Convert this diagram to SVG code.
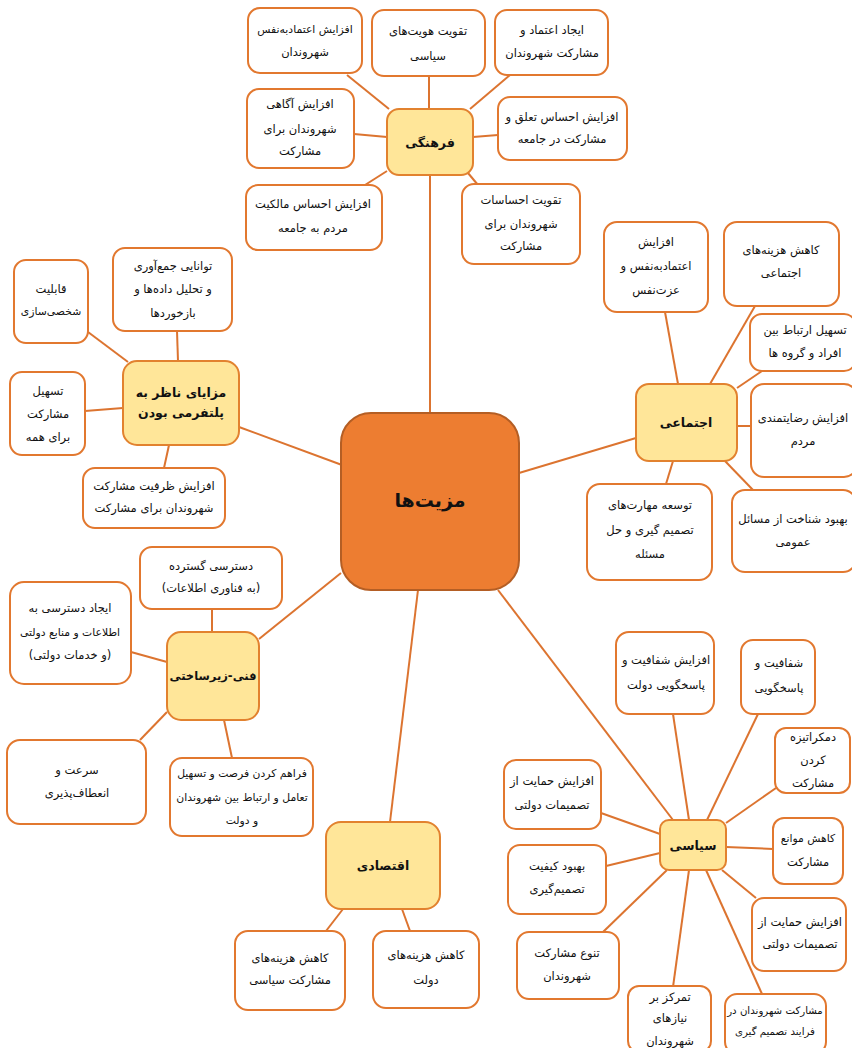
<svg xmlns="http://www.w3.org/2000/svg" width="852" height="1048" viewBox="0 0 852 1048">
  <style>
    text { font-family: "DejaVu Sans", "Noto Sans", sans-serif; fill: #111; text-anchor: middle; direction: rtl; }
    .leaf rect { fill: #ffffff; stroke: #E2782F; stroke-width: 2; }
    .leaf text { font-size: 11.5px; }
    .leaf text.sm { font-size: 10.8px; }
    .cat rect { fill: #FFE699; stroke: #E2822F; stroke-width: 2; }
    .cat text { font-size: 12.5px; font-weight: bold; }
    .cat text.sm { font-size: 11.5px; }
    .hub rect { fill: #ED7D31; stroke: #B45E24; stroke-width: 2; }
    .hub text { font-size: 19px; font-weight: bold; }
    #connectors line { stroke: #DC7430; stroke-width: 2; }
  </style>

  <rect width="852" height="1048" fill="#ffffff"/>

  <!-- connectors -->
  <g id="connectors">
    <!-- hub to categories -->
    <line x1="430" y1="175" x2="430" y2="413"/>
    <line x1="239" y1="427" x2="342" y2="465"/>
    <line x1="636" y1="438" x2="519" y2="473"/>
    <line x1="259" y1="639" x2="341" y2="573"/>
    <line x1="418" y1="590" x2="390" y2="822"/>
    <line x1="498" y1="590" x2="673" y2="820"/>
    <!-- farhangi -->
    <line x1="347" y1="75" x2="389" y2="109"/>
    <line x1="429" y1="76" x2="429" y2="109"/>
    <line x1="510" y1="75" x2="470" y2="109"/>
    <line x1="354" y1="134" x2="387" y2="137"/>
    <line x1="473" y1="137" x2="498" y2="135"/>
    <line x1="387" y1="171" x2="365" y2="185"/>
    <line x1="468" y1="173" x2="478" y2="185"/>
    <!-- platform -->
    <line x1="88" y1="332" x2="128" y2="362"/>
    <line x1="177" y1="331" x2="178" y2="361"/>
    <line x1="85" y1="411" x2="123" y2="408"/>
    <line x1="164" y1="468" x2="169" y2="445"/>
    <!-- ejtemai -->
    <line x1="665" y1="312" x2="678" y2="384"/>
    <line x1="755" y1="306" x2="710" y2="384"/>
    <line x1="762" y1="371" x2="737" y2="388"/>
    <line x1="737" y1="426" x2="751" y2="426"/>
    <line x1="725" y1="461" x2="753" y2="490"/>
    <line x1="673" y1="461" x2="666" y2="484"/>
    <!-- fanni -->
    <line x1="212" y1="609" x2="212" y2="632"/>
    <line x1="131" y1="652" x2="167" y2="662"/>
    <line x1="140" y1="740" x2="167" y2="712"/>
    <line x1="232" y1="758" x2="224" y2="720"/>
    <!-- eghtesadi -->
    <line x1="343" y1="909" x2="326" y2="931"/>
    <line x1="402" y1="909" x2="410" y2="931"/>
    <!-- siyasi -->
    <line x1="673" y1="714" x2="689" y2="820"/>
    <line x1="758" y1="714" x2="707" y2="820"/>
    <line x1="776" y1="788" x2="726" y2="823"/>
    <line x1="726" y1="847" x2="773" y2="849"/>
    <line x1="722" y1="870" x2="756" y2="898"/>
    <line x1="706" y1="870" x2="762" y2="994"/>
    <line x1="689" y1="870" x2="673" y2="987"/>
    <line x1="667" y1="870" x2="603" y2="932"/>
    <line x1="660" y1="853" x2="606" y2="866"/>
    <line x1="660" y1="834" x2="601" y2="813"/>
  </g>

  <!-- central hub -->
  <g id="hub" class="hub">
    <rect x="341" y="413" width="178" height="177" rx="30"/>
    <text x="430" y="507">مزیت‌ها</text>
  </g>

  <!-- categories -->
  <g id="cat-farhangi" class="cat">
    <rect x="387" y="109" width="86" height="66" rx="12"/>
    <text x="430" y="147">فرهنگی</text>
  </g>
  <g id="cat-platform" class="cat">
    <rect x="123" y="361" width="116" height="84" rx="14"/>
    <text x="181" y="397">مزایای ناظر به</text>
    <text x="181" y="417">پلتفرمی بودن</text>
  </g>
  <g id="cat-ejtemai" class="cat">
    <rect x="636" y="384" width="101" height="77" rx="13"/>
    <text x="686" y="427">اجتماعی</text>
  </g>
  <g id="cat-fanni" class="cat">
    <rect x="167" y="632" width="92" height="88" rx="14"/>
    <text x="213" y="680" class="sm">فنی-زیرساختی</text>
  </g>
  <g id="cat-eghtesadi" class="cat">
    <rect x="326" y="822" width="114" height="87" rx="15"/>
    <text x="383" y="870">اقتصادی</text>
  </g>
  <g id="cat-siyasi" class="cat">
    <rect x="660" y="820" width="66" height="50" rx="9"/>
    <text x="693" y="850">سیاسی</text>
  </g>

  <!-- farhangi leaves -->
  <g id="f1" class="leaf">
    <rect x="248" y="8" width="114" height="65" rx="12"/>
    <text x="305" y="33" class="sm">افزایش اعتمادبه‌نفس</text>
    <text x="305" y="56">شهروندان</text>
  </g>
  <g id="f2" class="leaf">
    <rect x="372" y="10" width="113" height="66" rx="12"/>
    <text x="428" y="35">تقویت هویت‌های</text>
    <text x="428" y="60">سیاسی</text>
  </g>
  <g id="f3" class="leaf">
    <rect x="495" y="10" width="113" height="65" rx="12"/>
    <text x="552" y="34">ایجاد اعتماد و</text>
    <text x="552" y="57">مشارکت شهروندان</text>
  </g>
  <g id="f4" class="leaf">
    <rect x="247" y="89" width="107" height="79" rx="12"/>
    <text x="300" y="108">افزایش آگاهی</text>
    <text x="300" y="133">شهروندان برای</text>
    <text x="300" y="155">مشارکت</text>
  </g>
  <g id="f5" class="leaf">
    <rect x="498" y="97" width="129" height="63" rx="12"/>
    <text x="562" y="121">افزایش احساس تعلق و</text>
    <text x="562" y="143">مشارکت در جامعه</text>
  </g>
  <g id="f6" class="leaf">
    <rect x="246" y="185" width="136" height="65" rx="12"/>
    <text x="313" y="208">افزایش احساس مالکیت</text>
    <text x="313" y="232">مردم به جامعه</text>
  </g>
  <g id="f7" class="leaf">
    <rect x="462" y="184" width="118" height="80" rx="12"/>
    <text x="521" y="204">تقویت احساسات</text>
    <text x="521" y="228">شهروندان برای</text>
    <text x="521" y="250">مشارکت</text>
  </g>

  <!-- platform leaves -->
  <g id="p1" class="leaf">
    <rect x="14" y="260" width="74" height="83" rx="12"/>
    <text x="51" y="293">قابلیت</text>
    <text x="51" y="315" class="sm">شخصی‌سازی</text>
  </g>
  <g id="p2" class="leaf">
    <rect x="113" y="248" width="119" height="83" rx="12"/>
    <text x="173" y="270">توانایی جمع‌آوری</text>
    <text x="173" y="293">و تحلیل داده‌ها و</text>
    <text x="173" y="317">بازخوردها</text>
  </g>
  <g id="p3" class="leaf">
    <rect x="10" y="372" width="75" height="83" rx="12"/>
    <text x="48" y="395">تسهیل</text>
    <text x="48" y="418">مشارکت</text>
    <text x="48" y="441">برای همه</text>
  </g>
  <g id="p4" class="leaf">
    <rect x="83" y="468" width="142" height="60" rx="12"/>
    <text x="154" y="490">افزایش ظرفیت مشارکت</text>
    <text x="154" y="512">شهروندان برای مشارکت</text>
  </g>

  <!-- ejtemai leaves -->
  <g id="e1" class="leaf">
    <rect x="604" y="222" width="104" height="90" rx="13"/>
    <text x="656" y="246">افزایش</text>
    <text x="656" y="270">اعتمادبه‌نفس و</text>
    <text x="656" y="294">عزت‌نفس</text>
  </g>
  <g id="e2" class="leaf">
    <rect x="724" y="222" width="115" height="84" rx="13"/>
    <text x="781" y="254">کاهش هزینه‌های</text>
    <text x="781" y="277">اجتماعی</text>
  </g>
  <g id="e3" class="leaf">
    <rect x="750" y="314" width="106" height="57" rx="12"/>
    <text x="805" y="334">تسهیل ارتباط بین</text>
    <text x="805" y="357">افراد و گروه ها</text>
  </g>
  <g id="e4" class="leaf">
    <rect x="751" y="384" width="106" height="93" rx="13"/>
    <text x="803" y="422">افزایش رضایتمندی</text>
    <text x="803" y="445">مردم</text>
  </g>
  <g id="e5" class="leaf">
    <rect x="732" y="490" width="124" height="82" rx="13"/>
    <text x="793" y="523">بهبود شناخت از مسائل</text>
    <text x="793" y="546">عمومی</text>
  </g>
  <g id="e6" class="leaf">
    <rect x="587" y="484" width="125" height="96" rx="13"/>
    <text x="650" y="509">توسعه مهارت‌های</text>
    <text x="650" y="534">تصمیم گیری و حل</text>
    <text x="650" y="558">مسئله</text>
  </g>

  <!-- fanni leaves -->
  <g id="t1" class="leaf">
    <rect x="140" y="547" width="142" height="62" rx="12"/>
    <text x="211" y="570">دسترسی گسترده</text>
    <text x="211" y="592">(به فناوری اطلاعات)</text>
  </g>
  <g id="t2" class="leaf">
    <rect x="10" y="582" width="121" height="102" rx="14"/>
    <text x="70" y="612">ایجاد دسترسی به</text>
    <text x="70" y="636" class="sm">اطلاعات و منابع دولتی</text>
    <text x="70" y="659">(و خدمات دولتی)</text>
  </g>
  <g id="t3" class="leaf">
    <rect x="7" y="740" width="139" height="84" rx="13"/>
    <text x="77" y="774">سرعت و</text>
    <text x="77" y="797">انعطاف‌پذیری</text>
  </g>
  <g id="t4" class="leaf">
    <rect x="170" y="758" width="143" height="78" rx="12"/>
    <text x="242" y="777" class="sm">فراهم کردن فرصت و تسهیل</text>
    <text x="242" y="801" class="sm">تعامل و ارتباط بین شهروندان</text>
    <text x="242" y="824" class="sm">و دولت</text>
  </g>

  <!-- eghtesadi leaves -->
  <g id="q1" class="leaf">
    <rect x="235" y="931" width="110" height="79" rx="13"/>
    <text x="290" y="962">کاهش هزینه‌های</text>
    <text x="290" y="984">مشارکت سیاسی</text>
  </g>
  <g id="q2" class="leaf">
    <rect x="373" y="931" width="106" height="77" rx="13"/>
    <text x="426" y="959">کاهش هزینه‌های</text>
    <text x="426" y="984">دولت</text>
  </g>

  <!-- siyasi leaves -->
  <g id="s1" class="leaf">
    <rect x="616" y="632" width="98" height="82" rx="13"/>
    <text x="666" y="664">افزایش شفافیت و</text>
    <text x="666" y="689">پاسخگویی دولت</text>
  </g>
  <g id="s2" class="leaf">
    <rect x="741" y="640" width="74" height="74" rx="12"/>
    <text x="779" y="667">شفافیت و</text>
    <text x="779" y="692">پاسخگویی</text>
  </g>
  <g id="s3" class="leaf">
    <rect x="775" y="728" width="75" height="65" rx="11"/>
    <text x="813" y="741">دمکراتیزه</text>
    <text x="813" y="764">کردن</text>
    <text x="813" y="787">مشارکت</text>
  </g>
  <g id="s4" class="leaf">
    <rect x="773" y="818" width="70" height="66" rx="11"/>
    <text x="808" y="842" class="sm">کاهش موانع</text>
    <text x="808" y="866">مشارکت</text>
  </g>
  <g id="s5" class="leaf">
    <rect x="752" y="898" width="94" height="73" rx="12"/>
    <text x="800" y="926">افزایش حمایت از</text>
    <text x="800" y="948">تصمیمات دولتی</text>
  </g>
  <g id="s6" class="leaf">
    <rect x="725" y="994" width="101" height="60" rx="12"/>
    <text x="775" y="1014" style="font-size:10.2px">مشارکت شهروندان در</text>
    <text x="775" y="1035" style="font-size:10.2px">فرایند تصمیم گیری</text>
  </g>
  <g id="s7" class="leaf">
    <rect x="628" y="986" width="83" height="66" rx="11"/>
    <text x="670" y="1001">تمرکز بر</text>
    <text x="670" y="1022">نیازهای</text>
    <text x="670" y="1045">شهروندان</text>
  </g>
  <g id="s8" class="leaf">
    <rect x="517" y="932" width="102" height="67" rx="12"/>
    <text x="567" y="957">تنوع مشارکت</text>
    <text x="567" y="980">شهروندان</text>
  </g>
  <g id="s9" class="leaf">
    <rect x="508" y="845" width="98" height="69" rx="12"/>
    <text x="557" y="870">بهبود کیفیت</text>
    <text x="557" y="893">تصمیم‌گیری</text>
  </g>
  <g id="s10" class="leaf">
    <rect x="504" y="760" width="97" height="69" rx="12"/>
    <text x="552" y="785">افزایش حمایت از</text>
    <text x="552" y="809">تصمیمات دولتی</text>
  </g>
</svg>
